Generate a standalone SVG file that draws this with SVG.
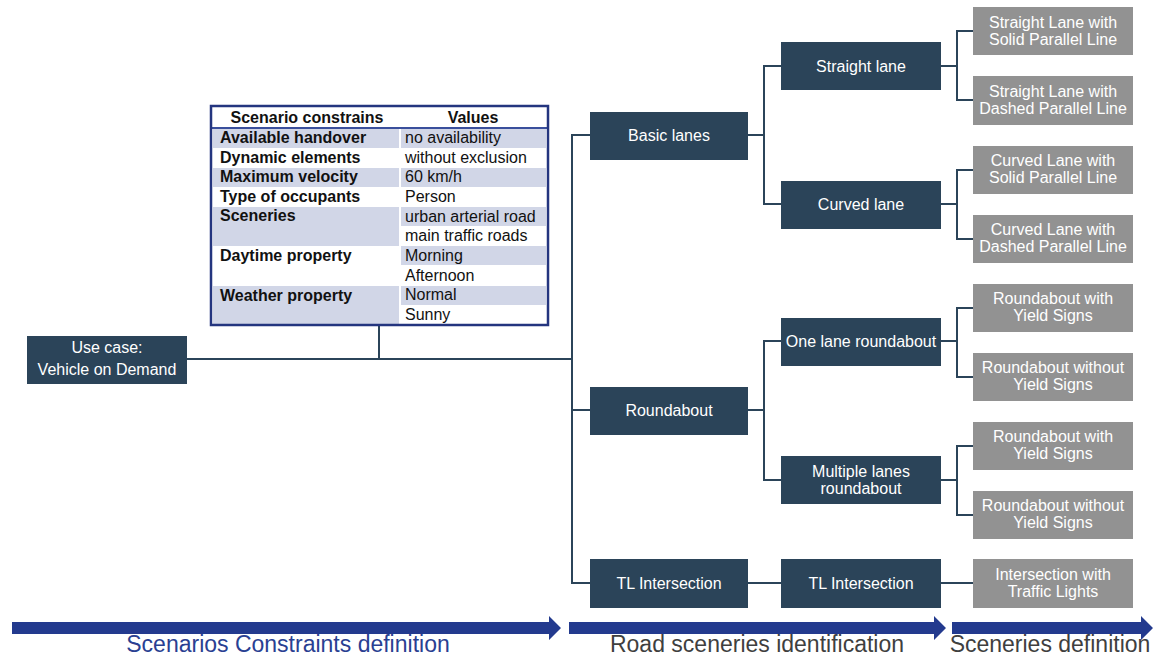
<svg xmlns="http://www.w3.org/2000/svg" width="1155" height="657" viewBox="0 0 1155 657">
<style>
.dk{fill:#2b4459}
.gr{fill:#929292}
.nt{font-family:"Liberation Sans",Arial,sans-serif;font-size:16px;fill:#ffffff;text-anchor:middle}
.tb{font-family:"Liberation Sans",Arial,sans-serif;font-size:16px;fill:#111111}
.b{font-weight:bold}
.sh{fill:#d1d6e7}
.con{fill:none;stroke:#2b4459;stroke-width:2}
.arr{fill:#233a8e}
.lab{font-family:"Liberation Sans",Arial,sans-serif;font-size:23px;text-anchor:middle}
</style>
<rect width="1155" height="657" fill="#ffffff"/>

<g id="connectors">
<polyline class="con" points="187,359 572,359"/>
<polyline class="con" points="379,326 379,359"/>
<polyline class="con" points="590,135 572,135 572,583 590,583"/>
<polyline class="con" points="572,410 590,410"/>
<polyline class="con" points="748,135 764,135"/>
<polyline class="con" points="781,66 764,66 764,204 781,204"/>
<polyline class="con" points="748,410 764,410"/>
<polyline class="con" points="781,341 764,341 764,480 781,480"/>
<polyline class="con" points="748,583 781,583"/>
<polyline class="con" points="941,66 957,66"/>
<polyline class="con" points="973,31 957,31 957,100 973,100"/>
<polyline class="con" points="941,204 957,204"/>
<polyline class="con" points="973,170 957,170 957,239 973,239"/>
<polyline class="con" points="941,341 957,341"/>
<polyline class="con" points="973,308 957,308 957,377 973,377"/>
<polyline class="con" points="941,480 957,480"/>
<polyline class="con" points="973,446 957,446 957,515 973,515"/>
<polyline class="con" points="941,583 973,583"/>
</g>

<g id="table">
<rect x="211" y="106" width="337" height="219" fill="#ffffff"/>
<rect class="sh" x="213" y="129" width="186" height="19"/>
<rect class="sh" x="401" y="129" width="145" height="19"/>
<rect class="sh" x="213" y="168" width="186" height="19"/>
<rect class="sh" x="401" y="168" width="145" height="19"/>
<rect class="sh" x="213" y="207" width="186" height="39"/>
<rect class="sh" x="401" y="207" width="145" height="19"/>
<rect class="sh" x="401" y="246" width="145" height="19"/>
<rect class="sh" x="213" y="286" width="186" height="38"/>
<rect class="sh" x="401" y="286" width="145" height="19"/>
<line x1="212" y1="128" x2="547" y2="128" stroke="#3a4f9c" stroke-width="2"/>
<rect x="211" y="106" width="337" height="219" fill="none" stroke="#24357f" stroke-width="2.5"/>
<text class="tb b" x="307" y="123" text-anchor="middle">Scenario constrains</text>
<text class="tb b" x="473" y="123" text-anchor="middle">Values</text>
<text class="tb b" x="220" y="143">Available handover</text>
<text class="tb" x="405" y="143">no availability</text>
<text class="tb b" x="220" y="163">Dynamic elements</text>
<text class="tb" x="405" y="163">without exclusion</text>
<text class="tb b" x="220" y="182">Maximum velocity</text>
<text class="tb" x="405" y="182">60 km/h</text>
<text class="tb b" x="220" y="202">Type of occupants</text>
<text class="tb" x="405" y="202">Person</text>
<text class="tb b" x="220" y="221">Sceneries</text>
<text class="tb" x="405" y="222">urban arterial road</text>
<text class="tb" x="405" y="241">main traffic roads</text>
<text class="tb b" x="220" y="261">Daytime property</text>
<text class="tb" x="405" y="261">Morning</text>
<text class="tb" x="405" y="281">Afternoon</text>
<text class="tb b" x="220" y="301">Weather property</text>
<text class="tb" x="405" y="300">Normal</text>
<text class="tb" x="405" y="320">Sunny</text>
</g>

<g id="usecase">
<rect class="dk" x="27" y="336" width="160" height="48"/>
<text class="nt" x="107" y="353">Use case:</text>
<text class="nt" x="107" y="375">Vehicle on Demand</text>
</g>

<g id="basic-lanes"><rect class="dk" x="590" y="112" width="158" height="48"/><text class="nt" x="669" y="141">Basic lanes</text></g>
<g id="roundabout"><rect class="dk" x="590" y="387" width="158" height="48"/><text class="nt" x="669" y="416">Roundabout</text></g>
<g id="tl-intersection-1"><rect class="dk" x="590" y="559" width="158" height="49"/><text class="nt" x="669" y="589">TL Intersection</text></g>

<g id="straight-lane"><rect class="dk" x="781" y="42" width="160" height="48"/><text class="nt" x="861" y="72">Straight lane</text></g>
<g id="curved-lane"><rect class="dk" x="781" y="181" width="160" height="48"/><text class="nt" x="861" y="210">Curved lane</text></g>
<g id="one-lane-roundabout"><rect class="dk" x="781" y="318" width="160" height="48"/><text class="nt" x="861" y="347">One lane roundabout</text></g>
<g id="multiple-lanes-roundabout"><rect class="dk" x="781" y="456" width="160" height="48"/><text class="nt" x="861" y="477">Multiple lanes</text><text class="nt" x="861" y="494">roundabout</text></g>
<g id="tl-intersection-2"><rect class="dk" x="781" y="559" width="160" height="49"/><text class="nt" x="861" y="589">TL Intersection</text></g>

<g id="straight-solid"><rect class="gr" x="973" y="7" width="160" height="48"/><text class="nt" x="1053" y="28">Straight Lane with</text><text class="nt" x="1053" y="45">Solid Parallel Line</text></g>
<g id="straight-dashed"><rect class="gr" x="973" y="76" width="160" height="49"/><text class="nt" x="1053" y="97">Straight Lane with</text><text class="nt" x="1053" y="114">Dashed Parallel Line</text></g>
<g id="curved-solid"><rect class="gr" x="973" y="146" width="160" height="48"/><text class="nt" x="1053" y="166">Curved Lane with</text><text class="nt" x="1053" y="183">Solid Parallel Line</text></g>
<g id="curved-dashed"><rect class="gr" x="973" y="215" width="160" height="48"/><text class="nt" x="1053" y="235">Curved Lane with</text><text class="nt" x="1053" y="252">Dashed Parallel Line</text></g>
<g id="rb-with-1"><rect class="gr" x="973" y="284" width="160" height="48"/><text class="nt" x="1053" y="304">Roundabout with</text><text class="nt" x="1053" y="321">Yield Signs</text></g>
<g id="rb-without-1"><rect class="gr" x="973" y="353" width="160" height="48"/><text class="nt" x="1053" y="373">Roundabout without</text><text class="nt" x="1053" y="390">Yield Signs</text></g>
<g id="rb-with-2"><rect class="gr" x="973" y="422" width="160" height="48"/><text class="nt" x="1053" y="442">Roundabout with</text><text class="nt" x="1053" y="459">Yield Signs</text></g>
<g id="rb-without-2"><rect class="gr" x="973" y="491" width="160" height="48"/><text class="nt" x="1053" y="511">Roundabout without</text><text class="nt" x="1053" y="528">Yield Signs</text></g>
<g id="intersection-tl"><rect class="gr" x="973" y="559" width="160" height="49"/><text class="nt" x="1053" y="580">Intersection with</text><text class="nt" x="1053" y="597">Traffic Lights</text></g>

<g id="phase-arrows">
<polygon class="arr" points="12,622 549,622 549,616 561,628 549,640 549,634 12,634"/>
<polygon class="arr" points="569,622 934,622 934,616 946,628 934,640 934,634 569,634"/>
<polygon class="arr" points="952,622 1141,622 1141,616 1153,628 1141,640 1141,634 952,634"/>
<text class="lab" x="288" y="652" fill="#2a3f92">Scenarios Constraints definition</text>
<text class="lab" x="757" y="652" fill="#3f3f3f">Road sceneries identification</text>
<text class="lab" x="1050" y="652" fill="#3f3f3f">Sceneries definition</text>
</g>
</svg>
